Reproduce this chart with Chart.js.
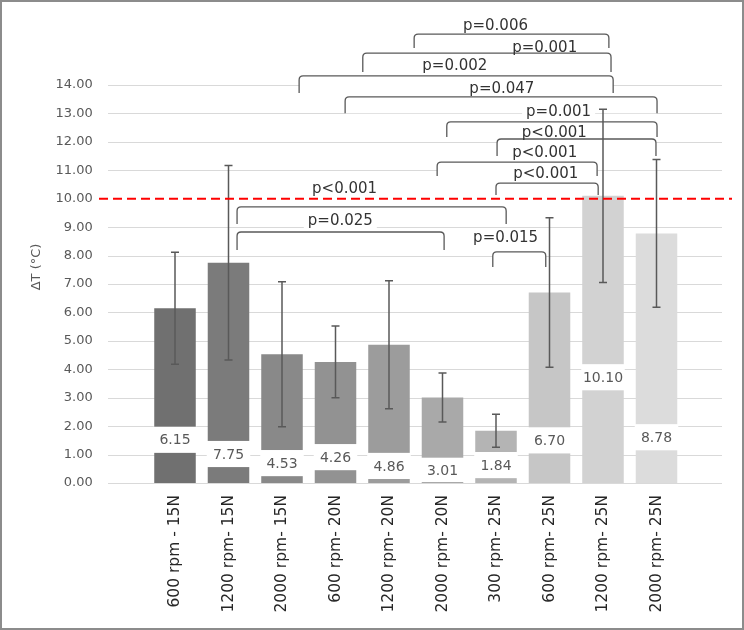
<!DOCTYPE html>
<html>
<head>
<meta charset="utf-8">
<script src="https://cdn.jsdelivr.net/npm/chart.js@4.4.0/dist/chart.umd.min.js"></script>
<style>
html, body { margin: 0; padding: 0; background: #fff; }
#frame { width: 744px; height: 630px; box-sizing: border-box; border: 2px solid #8c8c8c; }
canvas { display: block; }
</style>
</head>
<body>
<div id="frame"><canvas id="chart" width="740" height="626"></canvas></div>
<script>
// groups and values
const categories = ['600 rpm - 15N', '1200 rpm- 15N', '2000 rpm- 15N', '600 rpm- 20N', '1200 rpm- 20N',
                    '2000 rpm- 20N', '300 rpm- 25N', '600 rpm- 25N', '1200 rpm- 25N', '2000 rpm- 25N'];
const meanDeltaT = [6.15, 7.75, 4.53, 4.26, 4.86, 3.01, 1.84, 6.70, 10.10, 8.78];
const errDeltaT = [1.97, 3.42, 2.55, 1.26, 2.25, 0.86, 0.58, 2.63, 3.05, 2.60];
const barColors = ['#707070', '#7b7b7b', '#898989', '#929292', '#9c9c9c', '#a9a9a9', '#b4b4b4', '#c6c6c6', '#d2d2d2', '#dcdcdc'];
// where each value label sits on its bar (in degrees)
const labelCenter = [1.52, 1.02, 0.70, 0.91, 0.60, 0.43, 0.63, 1.50, 3.72, 1.61];
const yTickMax = 14;
const threshold = 10;

// significance brackets (category index positions, levels in degrees)
const pLabels = ['p=0.006', 'p=0.001', 'p=0.002', 'p=0.047', 'p=0.001', 'p<0.001', 'p<0.001', 'p<0.001', 'p<0.001', 'p=0.025', 'p=0.015'];
const pFrom = [4.47, 3.51, 2.32, 3.18, 5.08, 6.02, 4.90, 6.00, 1.16, 1.16, 5.94];
const pTo = [8.11, 8.15, 8.19, 9.01, 9.01, 8.99, 7.89, 7.91, 6.19, 5.03, 6.93];
const pTop = [15.79, 15.12, 14.32, 13.58, 12.70, 12.10, 11.29, 10.55, 9.71, 8.83, 8.13];
const pLeg = [15.30, 14.46, 13.72, 13.01, 12.17, 11.50, 10.80, 10.13, 9.11, 8.20, 7.60];
const pTextX = [5.99, 6.91, 5.23, 6.11, 7.17, 7.09, 6.91, 6.93, 3.17, 3.09, 6.18];
const pTextY = [15.93, 15.17, 14.53, 13.71, 12.91, 12.18, 11.46, 10.72, 10.19, 9.07, 8.47];

const FONT = 'DejaVu Sans';
const TXT = '#595959';

function catX(xs, v) {
    const x0 = xs.getPixelForValue(0);
    const step = xs.getPixelForValue(1) - x0;
    return x0 + v * step;
}

function roundBracket(ctx, x1, x2, yTop, yLeg, r) {
    ctx.beginPath();
    ctx.moveTo(x1, yLeg);
    ctx.lineTo(x1, yTop + r);
    ctx.quadraticCurveTo(x1, yTop, x1 + r, yTop);
    ctx.lineTo(x2 - r, yTop);
    ctx.quadraticCurveTo(x2, yTop, x2, yTop + r);
    ctx.lineTo(x2, yLeg);
}

const extras = {
    id: 'extras',
    beforeDatasetsDraw(chart) {
        const ctx = chart.ctx;
        const ys = chart.scales.y;
        ctx.save();
        ctx.strokeStyle = '#d9d9d9';
        ctx.lineWidth = 1;
        for (let v = 0; v <= yTickMax; v++) {
            if (v === threshold) continue;
            const y = Math.round(ys.getPixelForValue(v)) + 0.5;
            ctx.beginPath();
            ctx.moveTo(106, y);
            ctx.lineTo(720, y);
            ctx.stroke();
        }
        ctx.restore();
    },
    afterDatasetsDraw(chart) {
        const ctx = chart.ctx;
        const xs = chart.scales.x;
        const ys = chart.scales.y;
        const bars = chart.getDatasetMeta(0).data;
        ctx.save();

        // value labels in white boxes
        ctx.font = '14px ' + FONT;
        ctx.textAlign = 'center';
        ctx.textBaseline = 'middle';
        bars.forEach((b, i) => {
            const w = b.width;
            const top = ys.getPixelForValue(labelCenter[i] + 0.46);
            const bot = Math.min(ys.getPixelForValue(labelCenter[i] - 0.46), ys.getPixelForValue(0) - 1);
            ctx.fillStyle = '#ffffff';
            ctx.fillRect(b.x - w / 2 - 1, top, w + 2, bot - top);
            ctx.fillStyle = TXT;
            ctx.fillText(meanDeltaT[i].toFixed(2), b.x, ys.getPixelForValue(labelCenter[i]) + 1);
        });

        // brackets: fills, label boxes, strokes, texts
        ctx.font = '15px ' + FONT;
        ctx.textAlign = 'center';
        ctx.textBaseline = 'alphabetic';
        pLabels.forEach((t, i) => {
            roundBracket(ctx, catX(xs, pFrom[i]), catX(xs, pTo[i]), ys.getPixelForValue(pTop[i]), ys.getPixelForValue(pLeg[i]), 4);
            ctx.closePath();
            ctx.fillStyle = '#ffffff';
            ctx.fill();
        });
        pLabels.forEach((t, i) => {
            const w = ctx.measureText(t).width;
            const x = catX(xs, pTextX[i]);
            const y = ys.getPixelForValue(pTextY[i]);
            ctx.fillStyle = '#ffffff';
            ctx.fillRect(x - w / 2 - 4, y - 13, w + 8, 16);
        });
        ctx.strokeStyle = '#595959';
        ctx.lineWidth = 1.3;
        pLabels.forEach((t, i) => {
            roundBracket(ctx, catX(xs, pFrom[i]), catX(xs, pTo[i]), ys.getPixelForValue(pTop[i]), ys.getPixelForValue(pLeg[i]), 4);
            ctx.stroke();
        });
        ctx.fillStyle = '#333333';
        pLabels.forEach((t, i) => {
            ctx.fillText(t, catX(xs, pTextX[i]), ys.getPixelForValue(pTextY[i]));
        });

        // error bars
        ctx.strokeStyle = '#595959';
        ctx.lineWidth = 1.5;
        bars.forEach((b, i) => {
            const hi = ys.getPixelForValue(meanDeltaT[i] + errDeltaT[i]);
            const lo = ys.getPixelForValue(meanDeltaT[i] - errDeltaT[i]);
            ctx.beginPath();
            ctx.moveTo(b.x, hi);
            ctx.lineTo(b.x, lo);
            ctx.moveTo(b.x - 4, hi);
            ctx.lineTo(b.x + 4, hi);
            ctx.moveTo(b.x - 4, lo);
            ctx.lineTo(b.x + 4, lo);
            ctx.stroke();
        });

        // threshold line
        const ty = ys.getPixelForValue(threshold);
        ctx.strokeStyle = '#ff0000';
        ctx.lineWidth = 2;
        ctx.setLineDash([9, 5]);
        ctx.beginPath();
        ctx.moveTo(97, ty);
        ctx.lineTo(730, ty);
        ctx.stroke();
        ctx.setLineDash([]);

        // axis title
        ctx.translate(34.5, ys.getPixelForValue(7.6));
        ctx.rotate(-Math.PI / 2);
        ctx.font = '13px ' + FONT;
        ctx.fillStyle = TXT;
        ctx.textAlign = 'center';
        ctx.textBaseline = 'middle';
        ctx.fillText('ΔT (°C)', 0, 0);
        ctx.restore();
    }
};

new Chart(document.getElementById('chart').getContext('2d'), {
    type: 'bar',
    data: {
        labels: categories,
        datasets: [{
            data: meanDeltaT,
            backgroundColor: barColors,
            barPercentage: 0.776,
            categoryPercentage: 1
        }]
    },
    options: {
        responsive: false,
        animation: false,
        layout: { padding: { top: 3.4, right: 58.75, left: 0, bottom: 0 } },
        plugins: { legend: { display: false }, tooltip: { enabled: false } },
        scales: {
            x: {
                grid: { display: false, drawTicks: false },
                border: { display: false },
                ticks: {
                    color: '#262626',
                    font: { family: FONT, size: 15.5 },
                    maxRotation: 90,
                    minRotation: 90,
                    autoSkip: false,
                    padding: 12
                },
                afterFit(scale) { scale.height = 145; }
            },
            y: {
                min: 0,
                max: 16.8,
                grid: { display: false, drawTicks: false },
                border: { display: false },
                ticks: {
                    stepSize: 1,
                    color: TXT,
                    font: { family: FONT, size: 13 },
                    padding: 55.5,
                    callback: v => v.toFixed(2)
                },
                afterBuildTicks(scale) {
                    scale.ticks = scale.ticks.filter(t => t.value <= yTickMax);
                },
                afterFit(scale) {
                    scale.width = 146.25;
                    scale.paddingTop = 0;
                    scale.paddingBottom = 0;
                }
            }
        }
    },
    plugins: [extras]
});
</script>
</body>
</html>
